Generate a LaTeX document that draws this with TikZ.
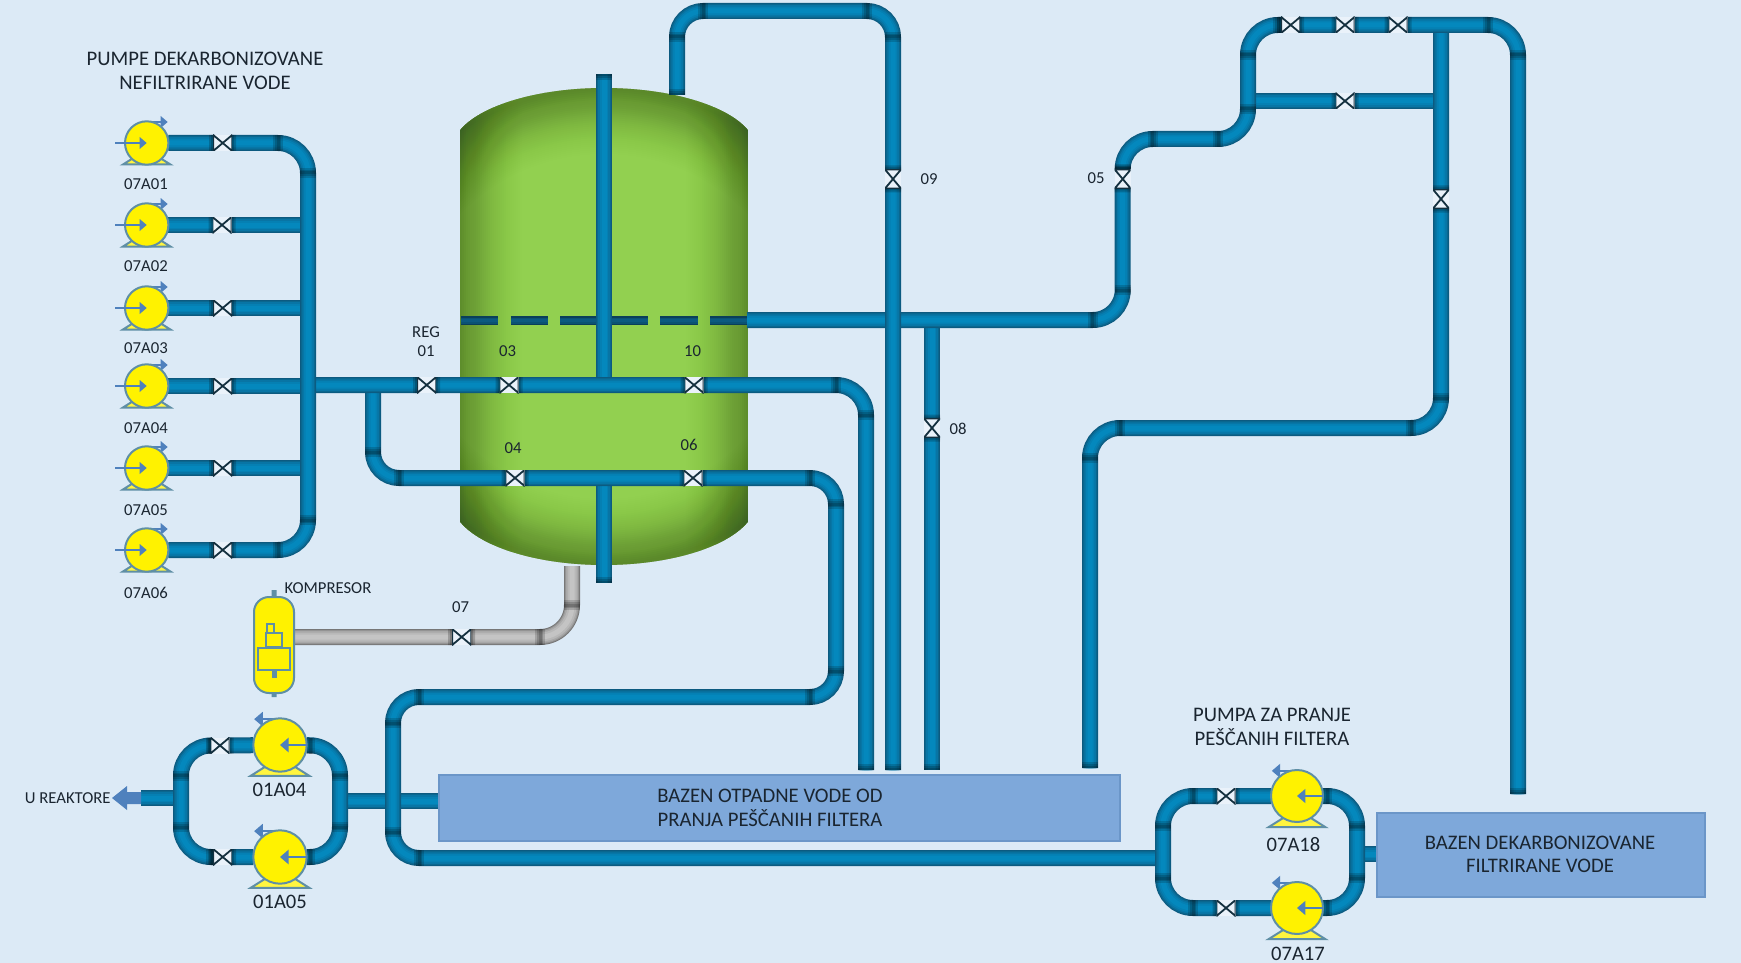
\documentclass[tikz,border=0pt]{standalone}
\usepackage{fontspec}
\setmainfont{Carlito}
\usetikzlibrary{calc}
\definecolor{bgc}{HTML}{DCEAF6}
\definecolor{pa}{HTML}{0C5A80}
\definecolor{pb}{HTML}{0A678F}
\definecolor{pc}{HTML}{0875A5}
\definecolor{pd}{HTML}{0580B3}
\definecolor{pe}{HTML}{0488BD}
\definecolor{ga}{HTML}{777777}
\definecolor{gb}{HTML}{939393}
\definecolor{gc}{HTML}{A8A8A8}
\definecolor{gd}{HTML}{B8B8B8}
\definecolor{ge}{HTML}{C4C4C4}
\definecolor{flowc}{HTML}{4F81BD}
\definecolor{pumpedge}{HTML}{5F8FA5}
\definecolor{boxc}{HTML}{7EA8DA}
\definecolor{boxe}{HTML}{6B96C8}
\definecolor{vesselc}{HTML}{92D050}
\definecolor{vesseld}{HTML}{3A5222}
\definecolor{txt}{HTML}{1A2530}
\definecolor{valved}{HTML}{14303F}
\definecolor{dasha}{HTML}{0A3F5A}
\definecolor{dashb}{HTML}{0B5273}
\pgfdeclarelayer{vessel}
\pgfdeclarelayer{pipes}
\pgfsetlayers{vessel,pipes,main}
\tikzset{
  lbl/.style={text=txt,inner sep=0pt,font=\fontsize{16.7}{18}\selectfont},
  lblbig/.style={text=txt,inner sep=0pt,align=center,font=\fontsize{20.7}{23.5}\selectfont},
  lblnum/.style={text=txt,inner sep=0pt,font=\fontsize{20.6}{22}\selectfont},
  boxtxt/.style={text=txt,inner sep=0pt,align=center,font=\fontsize{20.7}{23.5}\selectfont},
  basin/.style={draw=boxe,fill=boxc,line width=2pt,inner sep=0pt,outer sep=0pt},
  valvebase/.style={fill=bgc!60!white,inner sep=0pt,outer sep=0pt,minimum width=19pt,minimum height=16pt},
  valveh/.style={valvebase,path picture={\draw[valved,line width=1.8pt]
     (path picture bounding box.south west)--(path picture bounding box.north east)--(path picture bounding box.south east)--(path picture bounding box.north west)--cycle;}},
  valvev/.style={valvebase,minimum width=16pt,minimum height=19pt,path picture={\draw[valved,line width=1.8pt]
     (path picture bounding box.north west)--(path picture bounding box.south east)--(path picture bounding box.south west)--(path picture bounding box.north east)--cycle;}},
  pumpbody/.style={circle,draw=pumpedge,fill=yellow,line width=2pt,inner sep=0pt,outer sep=0pt},
  flowline/.style={draw=flowc,line width=2.2pt},
  comp/.style={draw=pumpedge,line width=2pt},
}
% pipe: nested strokes give the cross-section shading
\newcommand\pipe[2][30]{\foreach \w/\c in {16/pa,14/pb,11.5/pc,8.5/pd,5/pe}{\draw[line width=\w pt,color=\c,rounded corners=#1 pt] #2;}}
\newcommand\greypipe[2][32]{\foreach \w/\c in {16/ga,14/gb,12/gc,9/gd,5/ge}{\draw[line width=\w pt,color=\c,rounded corners=#1 pt] #2;}}
% joint bands across a pipe
\newcommand\jh[2]{\foreach \h in {5,3,1.5}{\fill[black,opacity=.16] (#1-\h,#2-8) rectangle (#1+\h,#2+8);}}
\newcommand\jv[2]{\foreach \h in {5,3,1.5}{\fill[black,opacity=.16] (#1-8,#2-\h) rectangle (#1+8,#2+\h);}}
% end band: x,y,direction into the pipe
\newcommand\pend[3]{\foreach \h in {6,4,2}{\fill[black,opacity=.17] (#1-8,#2) rectangle (#1+8,#2+#3*\h);}}
% elbow: corner x,y ; horizontal leg sign ; vertical leg sign ; radius
\newcommand\elbow[5]{\jh{#1+#3*#5}{#2}\jv{#1}{#2+#4*#5}}
% pump: name,x,y,r,mirror,tail,base
\newcommand\pump[7]{%
\begin{scope}[shift={(#2,#3)},xscale=#5*#4/21.7,yscale=#4/21.7]
 \draw[comp,fill=yellow!75!white] (-23.7,#7)--(-11,#7-8)--(11,#7-8)--(23.7,#7)--cycle;
 \draw[flowline] (-4,-21)--(16,-21);
 \fill[flowc] (14,-27)--(21,-21)--(14,-15)--cycle;
 \node[pumpbody,minimum size=2*#4] (#1) at (0,0) {};
 \draw[flowline] (#6,0)--(-5,0);
 \fill[flowc] (-7,-6)--(0,0)--(-7,6)--cycle;
\end{scope}}
\newcommand\tankpath{plot[domain=18.7:161.3,samples=60] ({604+152*cos(\x)},{150-62*sin(\x)}) -- plot[domain=161.3:18.7,samples=60] ({604+152*cos(\x)},{501.3+63.7*sin(\x)}) -- cycle}
\begin{document}
\begin{tikzpicture}[x=1pt,y=-1pt]
\useasboundingbox (0,0) rectangle (1741,963);
\begin{pgfonlayer}{vessel}
\fill[bgc] (0,0) rectangle (1741,963);
\begin{scope}
 \clip \tankpath;
 \fill[vesselc] (450,80) rectangle (760,580);
 \foreach \d in {2,4,...,66}{
   \pgfmathsetmacro\al{0.031*(1-\d/66)+0.001}
   \fill[vesseld,opacity=\al] (460,80) rectangle (460+\d,580);
   \fill[vesseld,opacity=\al] (748,80) rectangle (748-\d,580);
 }
 \foreach \d in {2,4,...,70}{
   \pgfmathsetmacro\al{0.033*(1-\d/70)+0.001}
   \draw[vesseld,opacity=\al,line width=2*\d pt] plot[domain=0:180,samples=70] ({604+260*cos(\x)},{338-250*sin(\x)});
   \draw[vesseld,opacity=\al,line width=2*\d pt] plot[domain=0:180,samples=70] ({604+260*cos(\x)},{307+258*sin(\x)});
 }
\end{scope}
\end{pgfonlayer}
% basins
\node[basin,minimum width=681pt,minimum height=66pt] (tankA) at (779,808) {};
\node[boxtxt] (tankAt) at (770,808) {BAZEN OTPADNE VODE OD\\PRANJA PEŠČANIH FILTERA};
\node[basin,minimum width=328pt,minimum height=84pt] (tankB) at (1541,854.7) {};
\node[boxtxt] (tankBt) at (1540,854.5) {BAZEN DEKARBONIZOVANE\\FILTRIRANE VODE};
% pumps
\pump{pa1}{146.7}{143}{21.7}{1}{-31.7}{21.5}
\pump{pa2}{146.7}{225}{21.7}{1}{-31.7}{21.5}
\pump{pa3}{146.7}{308}{21.7}{1}{-31.7}{21.5}
\pump{pa4}{146.7}{386}{21.7}{1}{-31.7}{21.5}
\pump{pa5}{146.7}{468}{21.7}{1}{-31.7}{21.5}
\pump{pa6}{146.7}{550}{21.7}{1}{-31.7}{21.5}
\pump{pb4}{280}{745}{26.7}{-1}{-21.7}{25}
\pump{pb5}{280}{857}{26.7}{-1}{-21.7}{25}
\pump{pc8}{1297}{796}{26}{-1}{-21.7}{26}
\pump{pc7}{1297}{908}{26}{-1}{-21.7}{26}
% valves
\node[valveh] (va1) at (222.7,143) {};
\node[valveh] (va2) at (222,225) {};
\node[valveh] (va3) at (222.7,308) {};
\node[valveh] (va4) at (222.7,386) {};
\node[valveh] (va5) at (222.7,468) {};
\node[valveh] (va6) at (222.7,550) {};
\node[valveh] (vreg) at (426.7,385) {};
\node[valveh] (v03) at (509,385) {};
\node[valveh] (v10) at (694,385) {};
\node[valveh] (v04) at (515,478) {};
\node[valveh] (v06) at (693,478) {};
\node[valveh] (v07) at (461.7,637) {};
\node[valvev] (v08) at (932,428) {};
\node[valvev] (v09) at (893,179) {};
\node[valvev] (v05) at (1122.7,179) {};
\node[valveh] (vt1) at (1290.7,25) {};
\node[valveh] (vt2) at (1345,25) {};
\node[valveh] (vt3) at (1398,25) {};
\node[valveh] (vm) at (1345,101) {};
\node[valvev] (vr) at (1441,199) {};
\node[valveh] (vb4) at (220,745.5) {};
\node[valveh] (vb5) at (222.7,857) {};
\node[valveh] (vc8) at (1226,796) {};
\node[valveh] (vc7) at (1226,908) {};
% compressor
\node[comp,fill=yellow,rounded corners=15pt,minimum width=40pt,minimum height=96pt,inner sep=0pt,outer sep=0pt] (compr) at (274,645) {};
\fill[pumpedge] (271.5,590) rectangle (276.5,597) (271.5,693) rectangle (276.5,697);
\draw[comp] (266.7,624) rectangle (274,632.7) (266,632.7) rectangle (282,647.3) (258.3,648) rectangle (290,670);
\fill[pumpedge] (271.7,670) rectangle (276.7,678);
% outlet arrow
\coordinate (arrT) at (141,798);
\fill[flowc] (141,792)--(127,792)--(127,786)--(112,798)--(127,810)--(127,804)--(141,804)--cycle;
% pipe waypoints
\coordinate (hT) at (308,143);
\coordinate (hB) at (308,550);
\coordinate (m0) at (308,385);
\coordinate (m1) at (866,385);
\coordinate (m2) at (866,770);
\coordinate (b0) at (373,385);
\coordinate (b1) at (373,478);
\coordinate (b2) at (836,478);
\coordinate (b3) at (836,697);
\coordinate (b4) at (393,697);
\coordinate (b5) at (393,858);
\coordinate (b6) at (1163,858);
\coordinate (lTL) at (1163,796);
\coordinate (lBL) at (1163,908);
\coordinate (lTR) at (1357,796);
\coordinate (lBR) at (1357,908);
\coordinate (lS) at (1357,854);
\coordinate (sTL) at (181,745.5);
\coordinate (sBL) at (181,857);
\coordinate (sTR) at (340,745.5);
\coordinate (sBR) at (340,857);
\coordinate (sSL) at (181,798);
\coordinate (sSR) at (340,801);
\coordinate (t0) at (677,95);
\coordinate (t1) at (677,11);
\coordinate (t2) at (893,11);
\coordinate (t3) at (893,770);
\coordinate (c0) at (604,74);
\coordinate (c1) at (604,385);
\coordinate (c2) at (604,478);
\coordinate (c3) at (604,583);
\coordinate (r0) at (747,320);
\coordinate (r1) at (1122.7,320);
\coordinate (r2) at (1122.7,139);
\coordinate (r3) at (1248,139);
\coordinate (r4) at (1248,25);
\coordinate (r5) at (1518,25);
\coordinate (r6) at (1518,794);
\coordinate (rm) at (1248,101);
\coordinate (q0) at (1441,25);
\coordinate (qm) at (1441,101);
\coordinate (q1) at (1441,428);
\coordinate (q2) at (1090,428);
\coordinate (q3) at (1090,768);
\coordinate (d0) at (932,320);
\coordinate (d1) at (932,770);
\coordinate (g0) at (294,637);
\coordinate (g1) at (572,637);
\coordinate (g2) at (572,566);
\begin{pgfonlayer}{pipes}
% dashed pipe inside the vessel
\foreach \xa/\xb in {460.7/498.3,510.7/548,560/597,611/647.7,660/697.7,710/747.7}{
  \foreach \w/\c in {8.5/dasha,6/dashb,3/pa}{\draw[line width=\w pt,color=\c] (\xa,320.5)--(\xb,320.5);}}
\pipe{(c0)--(c1)}
\pipe{(c2)--(c3)}
\pipe{(pa2)--(va2)--(va2-|hT)}
\pipe{(pa3)--(va3)--(va3-|hT)}
\pipe{(pa4)--(va4)--(va4-|hT)}
\pipe{(pa5)--(va5)--(va5-|hT)}
\pipe{(sSR)--(sSR-|tankA.west)}
\pipe[26]{(b0)--(b1)--(v04)--(v06)--(b2)--(b3)--(b4)--(b5)--(b6)}
\pipe{(m0)--(vreg)--(v03)--(v10)--(m1)--(m2)}
\pipe{(pa1)--(va1)--(hT)--(hB)--(va6)--(pa6)}
\pipe{(lS)--(lS-|tankB.west)}
\pipe{(pc8)--(vc8)--(lTL)--(lBL)--(vc7)--(pc7)}
\pipe{(pc8)--(lTR)--(lBR)--(pc7)}
\pipe{(sSL)--(arrT)}
\pipe{(pb4)--(vb4)--(sTL)--(sBL)--(vb5)--(pb5)}
\pipe{(pb4)--(sTR)--(sBR)--(pb5)}
\pipe{(d0)--(v08)--(d1)}
\pipe{(rm)--(vm)--(qm)}
\pipe{(q0)--(vr)--(q1)--(q2)--(q3)}
\pipe{(r0)--(r1)--(v05)--(r2)--(r3)--(r4)--(vt1)--(vt2)--(vt3)--(r5)--(r6)}
\pipe[26]{(t0)--(t1)--(t2)--(v09)--(t3)}
\greypipe{(g0)--(v07)--(g1)--(g2)}
% elbow bands
\elbow{308}{143}{-1}{1}{30}\elbow{308}{550}{-1}{-1}{30}
\elbow{866}{385}{-1}{1}{30}
\elbow{373}{478}{1}{-1}{26}\elbow{836}{478}{-1}{1}{26}\elbow{836}{697}{-1}{-1}{26}
\elbow{393}{697}{1}{1}{26}\elbow{393}{858}{1}{-1}{26}
\elbow{1163}{796}{1}{1}{30}\elbow{1163}{908}{1}{-1}{30}
\elbow{1357}{796}{-1}{1}{30}\elbow{1357}{908}{-1}{-1}{30}
\elbow{181}{745.5}{1}{1}{30}\elbow{181}{857}{1}{-1}{30}
\elbow{340}{745.5}{-1}{1}{30}\elbow{340}{857}{-1}{-1}{30}
\elbow{677}{11}{1}{1}{26}\elbow{893}{11}{-1}{1}{26}
\elbow{1122.7}{320}{-1}{-1}{30}\elbow{1122.7}{139}{1}{1}{30}
\elbow{1248}{139}{-1}{-1}{30}\elbow{1248}{25}{1}{1}{30}
\elbow{1518}{25}{-1}{1}{30}
\elbow{1441}{428}{-1}{-1}{30}\elbow{1090}{428}{1}{1}{30}
\elbow{572}{637}{-1}{-1}{32}
\pend{604}{74}{1}\pend{604}{583}{-1}\pend{677}{95}{-1}
\pend{866}{770}{-1}\pend{893}{770}{-1}\pend{932}{770}{-1}\pend{1090}{768}{-1}\pend{1518}{794}{-1}
\foreach \v in {vreg,v03,v10,v04,v06,v07,va1,va2,va3,va4,va5,va6,vt1,vt2,vt3,vm,vb4,vb5,vc8,vc7}{
  \path (\v.west) coordinate (tA) (\v.east) coordinate (tB);
  \foreach \h in {4,2}{\fill[black,opacity=.2] ($(tA)+(-\h,-8)$) rectangle ($(tA)+(0,8)$) ($(tB)+(0,-8)$) rectangle ($(tB)+(\h,8)$);}}
\foreach \v in {v05,v08,v09,vr}{
  \path (\v.north) coordinate (tA) (\v.south) coordinate (tB);
  \foreach \h in {4,2}{\fill[black,opacity=.2] ($(tA)+(-8,-\h)$) rectangle ($(tA)+(8,0)$) ($(tB)+(-8,0)$) rectangle ($(tB)+(8,\h)$);}}
\end{pgfonlayer}
% texts
\node[lblbig] (ttA) at (205,71) {PUMPE DEKARBONIZOVANE\\NEFILTRIRANE VODE};
\node[lblbig] (ttB) at (1272,727) {PUMPA ZA PRANJE\\PEŠČANIH FILTERA};
\node[lbl] (n1) at (146,184) {07A01};
\node[lbl] (n2) at (146,266) {07A02};
\node[lbl] (n3) at (146,348) {07A03};
\node[lbl] (n4) at (146,428) {07A04};
\node[lbl] (n5) at (146,510.5) {07A05};
\node[lbl] (n6) at (146,592.5) {07A06};
\node[lblnum] (n7) at (279.5,790) {01A04};
\node[lblnum] (n8) at (280,901.7) {01A05};
\node[lblnum] (n9) at (1293.5,845) {07A18};
\node[lblnum] (n10) at (1298,953.5) {07A17};
\node[lbl,align=center] (k) at (328,588) {KOMPRESOR};
\node[lbl] (u) at (67.7,798) {U REAKTORE};
\node[lbl,align=center,font=\fontsize{16.7}{19}\selectfont] (reg) at (426,341.5) {REG\\01};
\node[lbl] (l03) at (507.7,351) {03};
\node[lbl] (l10) at (692.7,351) {10};
\node[lbl] (l04) at (513,448) {04};
\node[lbl] (l06) at (689,445) {06};
\node[lbl] (l07) at (460.7,607) {07};
\node[lbl] (l08) at (958,428.5) {08};
\node[lbl] (l09) at (929,179) {09};
\node[lbl] (l05) at (1096,178.5) {05};
\end{tikzpicture}
\end{document}
